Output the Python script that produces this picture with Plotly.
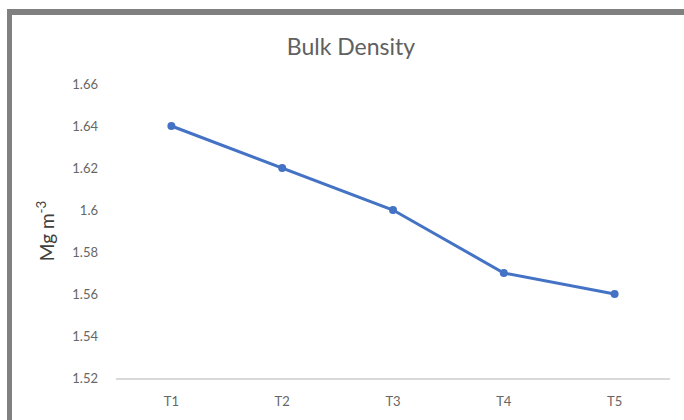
import plotly.graph_objects as go

# Bulk density per treatment
treatments = ["T1", "T2", "T3", "T4", "T5"]
bulk_density = [1.64, 1.62, 1.60, 1.57, 1.56]
y_ticks = [1.52, 1.54, 1.56, 1.58, 1.60, 1.62, 1.64, 1.66]
y_tick_text = ["1.52", "1.54", "1.56", "1.58", "1.6", "1.62", "1.64", "1.66"]

W, H = 684, 420
L, R, T, B = 116, 14, 84, 42
PW, PH = W - L - R, H - T - B


def px_x(px):
    return (px - L) / PW


def px_y(py):
    return (H - B - py) / PH


fig = go.Figure()
fig.add_trace(go.Scatter(
    x=treatments, y=bulk_density, mode="lines+markers",
    line=dict(color="#4472C4", width=3),
    marker=dict(color="#4472C4", size=8),
    hoverinfo="x+y",
))

frame = "#808080"
fig.update_layout(
    width=W, height=H,
    margin=dict(l=L, r=R, t=T, b=B),
    paper_bgcolor="white", plot_bgcolor="white",
    showlegend=False,
    font=dict(family="Lato, Open Sans, sans-serif", color="#595959"),
    title=dict(text="Bulk Density", x=px_x(351), xref="paper", xanchor="center",
               y=1 - 47 / H, yanchor="middle",
               font=dict(size=23, color="#606060")),
    xaxis=dict(
        range=[-0.5, 4.5],
        showgrid=False, zeroline=False, showline=True,
        linecolor="#d9d9d9", linewidth=1.5,
        ticks="", tickfont=dict(size=13, color="#666666"),
        ticklabelstandoff=11,
    ),
    yaxis=dict(
        range=[1.52, 1.66], tickvals=y_ticks, ticktext=y_tick_text,
        showgrid=False, zeroline=False, showline=False,
        ticks="", tickfont=dict(size=13, color="#666666"),
        ticklabelstandoff=17,
        title=dict(text="Mg m<sup>-3</sup>", font=dict(size=19, color="#404040"),
                   standoff=12),
    ),
    shapes=[
        # outer frame (top and left edges)
        dict(type="rect", xref="paper", yref="paper",
             x0=px_x(7), x1=px_x(684), y0=px_y(15), y1=px_y(9),
             fillcolor=frame, line=dict(width=0), layer="above"),
        dict(type="rect", xref="paper", yref="paper",
             x0=px_x(7), x1=px_x(12), y0=px_y(420), y1=px_y(9),
             fillcolor=frame, line=dict(width=0), layer="above"),
    ],
)

fig.write_html("out.html")
